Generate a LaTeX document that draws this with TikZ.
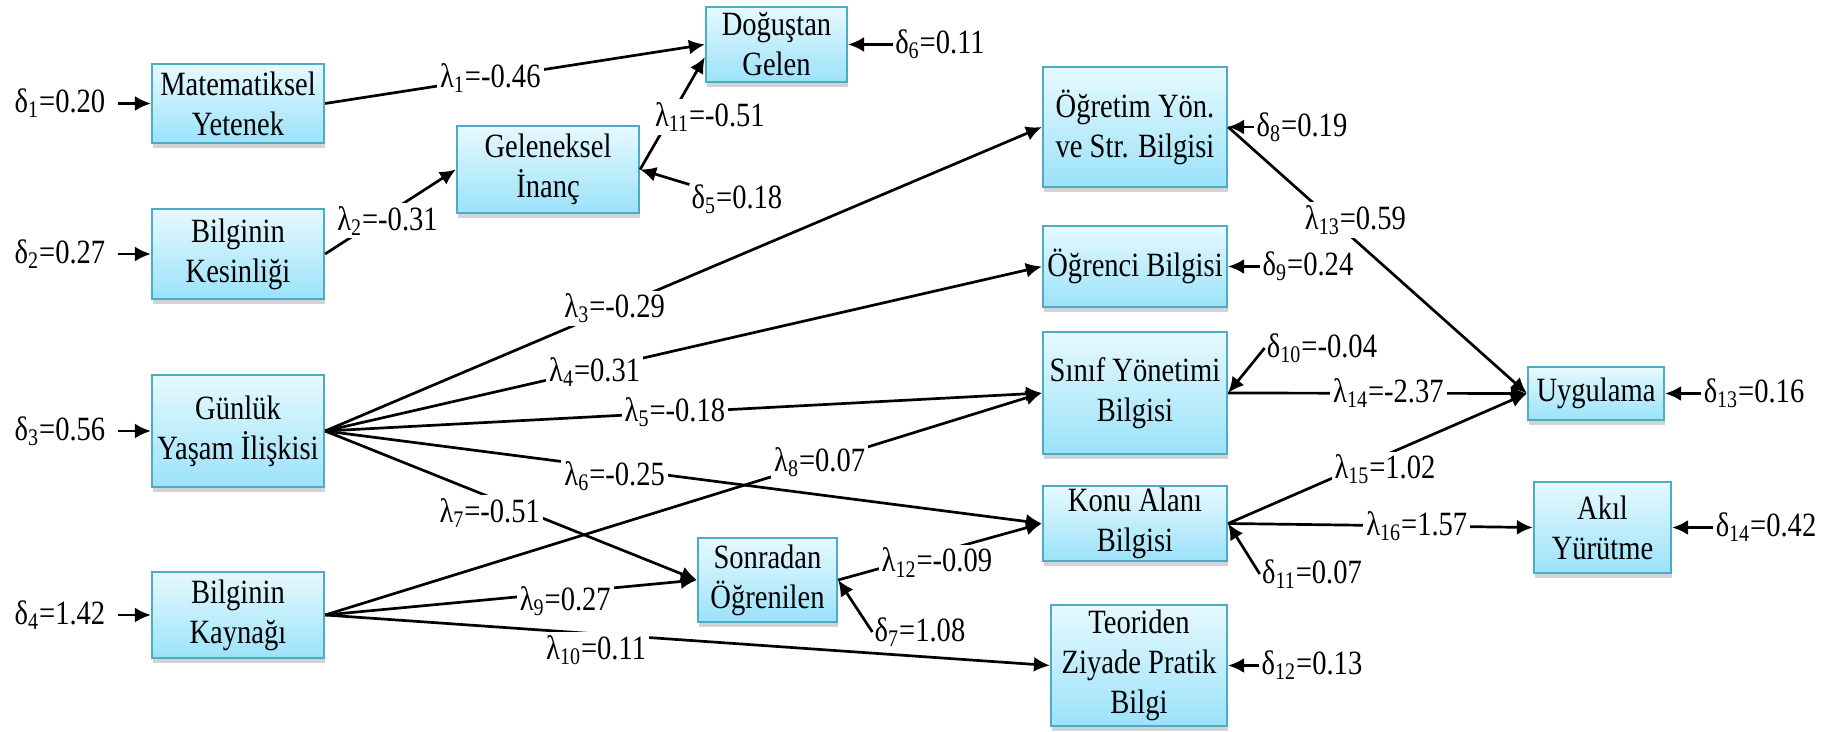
\documentclass[tikz,border=0pt]{standalone}
\usepackage{fontspec}
\setmainfont{Liberation Serif}[FakeStretch=0.84]
\usepackage{tikz}
\usetikzlibrary{arrows.meta,positioning,shadows}
\definecolor{boxline}{RGB}{75,172,198}
\definecolor{boxtop}{RGB}{230,249,254}
\definecolor{boxbot}{RGB}{155,226,250}
\tikzset{box/.style={draw=boxline,line width=1.1pt,top color=boxtop,bottom color=boxbot,align=center,inner sep=1pt,
  drop shadow={shadow xshift=0.6pt,shadow yshift=-2.5pt,opacity=.35}}}
\tikzstyle{lbl}=[fill=white, inner sep=1.5pt]
\tikzstyle{err}=[inner sep=0.5pt]
\newcommand{\lmd}[2]{λ\textsubscript{#1}=#2}
\newcommand{\dlt}[2]{δ\textsubscript{#1}=#2}

\begin{document}
\begin{tikzpicture}[x=0.5pt,y=-0.5pt,>={Latex[length=8pt,width=7.5pt]},line width=1.35pt,font=\fontsize{17pt}{20pt}\selectfont]
    \useasboundingbox (0,0) rectangle (1836,732);
    \node [box, minimum width=86pt, minimum height=39.5pt] (mat) at (238,103.5) {Matematiksel\\Yetenek};
    \node [box, minimum width=86pt, minimum height=45pt] (kes) at (238,254) {Bilginin\\Kesinliği};
    \node [box, minimum width=86pt, minimum height=56pt] (gun) at (238,431) {Günlük\\Yaşam İlişkisi};
    \node [box, minimum width=86pt, minimum height=43pt] (kay) at (238,615) {Bilginin\\Kaynağı};
    \node [box, minimum width=91pt, minimum height=43.5pt] (gel) at (548,169.5) {Geleneksel\\İnanç};
    \node [box, minimum width=70.5pt, minimum height=37.5pt] (dog) at (776.5,44.5) {Doğuştan\\Gelen};
    \node [box, minimum width=69.5pt, minimum height=42pt] (son) at (767.5,580) {Sonradan\\Öğrenilen};
    \node [box, minimum width=92pt, minimum height=60pt] (ogr) at (1135,127) {Öğretim Yön.\\ve Str. Bilgisi};
    \node [box, minimum width=92pt, minimum height=40.5pt] (ogc) at (1135,266.5) {Öğrenci Bilgisi};
    \node [box, minimum width=92pt, minimum height=61pt] (sin) at (1135,393) {Sınıf Yönetimi\\Bilgisi};
    \node [box, minimum width=92pt, minimum height=37.5pt] (kon) at (1135,523.5) {Konu Alanı\\Bilgisi};
    \node [box, minimum width=88pt, minimum height=60.5pt] (teo) at (1139,665.5) {Teoriden\\Ziyade Pratik\\Bilgi};
    \node [box, minimum width=68pt, minimum height=26.5pt] (uyg) at (1596,393.5) {Uygulama};
    \node [box, minimum width=68.5pt, minimum height=45.5pt] (aki) at (1602.5,527.5) {Akıl\\Yürütme};

    \node [err] (d1) [left of=mat, node distance=89pt] {\dlt{1}{0.20}};
    \node [err] (d2) [left of=kes, node distance=89pt] {\dlt{2}{0.27}};
    \node [err] (d3) [left of=gun, node distance=89pt] {\dlt{3}{0.56}};
    \node [err] (d4) [left of=kay, node distance=89pt] {\dlt{4}{1.42}};
    \node [err] (d5) at (737,199) {\dlt{5}{0.18}};
    \node [err] (d6) at (940,44.5) {\dlt{6}{0.11}};
    \node [err] (d7) at (920,632) {\dlt{7}{1.08}};
    \node [err] (d8) at (1302,127) {\dlt{8}{0.19}};
    \node [err] (d9) at (1308,266.5) {\dlt{9}{0.24}};
    \node [err] (d10) at (1322,348) {\dlt{10}{-0.04}};
    \node [err] (d11) at (1312,574) {\dlt{11}{0.07}};
    \node [err] (d12) at (1312,665.5) {\dlt{12}{0.13}};
    \node [err] (d13) at (1754,393.5) {\dlt{13}{0.16}};
    \node [err] (d14) at (1766,527.5) {\dlt{14}{0.42}};

    \path[->] (d1) edge[shorten <=5pt] (mat);
    \path[->] (d2) edge[shorten <=5pt] (kes);
    \path[->] (d3) edge[shorten <=5pt] (gun);
    \path[->] (d4) edge[shorten <=5pt] (kay);
    \path[->] (d5) edge (gel.east);
    \path[->] (d6) edge (dog);
    \path[->] (d7.west) edge (son.east);
    \path[->] (d8) edge (ogr);
    \path[->] (d9) edge (ogc);
    \path[->] (d10.west) edge (sin.east);
    \path[->] (d11.west) edge (kon.east);
    \path[->] (d12) edge (teo);
    \path[->] (d13) edge (uyg);
    \path[->] (d14) edge (aki);

    \path[->] (mat.east) edge node[lbl,pos=.435] {\lmd{1}{-0.46}} (dog.west);
    \path[->] (kes.east) edge node[lbl,pos=.477,yshift=-3.5pt] {\lmd{2}{-0.31}} (gel.west);
    \path[->] (gel.east) edge node[lbl,pos=.467,xshift=19.75pt] {\lmd{11}{-0.51}} (dog.190);
    \path[->] (gun.east) edge node[lbl,pos=.404] {\lmd{3}{-0.29}} (ogr.west)
        edge node[lbl,pos=.376,yshift=-1.5pt] {\lmd{4}{0.31}} (ogc.west)
        edge node[lbl,pos=.488] {\lmd{5}{-0.18}} (sin.west)
        edge node[lbl,pos=.404,yshift=-4pt] {\lmd{6}{-0.25}} (kon.west)
        edge node[lbl,pos=.51,xshift=-12.5pt,yshift=-3pt] {\lmd{7}{-0.51}} (son.west);
    \path[->] (kay.east) edge node[lbl,pos=.69] {\lmd{8}{0.07}} (sin.west)
        edge node[lbl,pos=.646,yshift=-4.5pt] {\lmd{9}{0.27}} (son.west)
        edge node[lbl,pos=.374,yshift=-8pt] {\lmd{10}{0.11}} (teo.west);
    \path[->] (son.east) edge node[lbl,pos=.485,yshift=-5pt] {\lmd{12}{-0.09}} (kon.west);
    \path[->] (ogr.east) edge node[lbl,pos=.349,xshift=11.5pt] {\lmd{13}{0.59}} (uyg.west);
    \path[->] (sin.east) edge node[lbl,pos=.5365] {\lmd{14}{-2.37}} (uyg.west);
    \path[->] (kon.east) edge node[lbl,pos=.525,yshift=-7pt] {\lmd{15}{1.02}} (uyg.west)
        edge node[lbl,pos=.619] {\lmd{16}{1.57}} (aki.west);
\end{tikzpicture}
\end{document}
